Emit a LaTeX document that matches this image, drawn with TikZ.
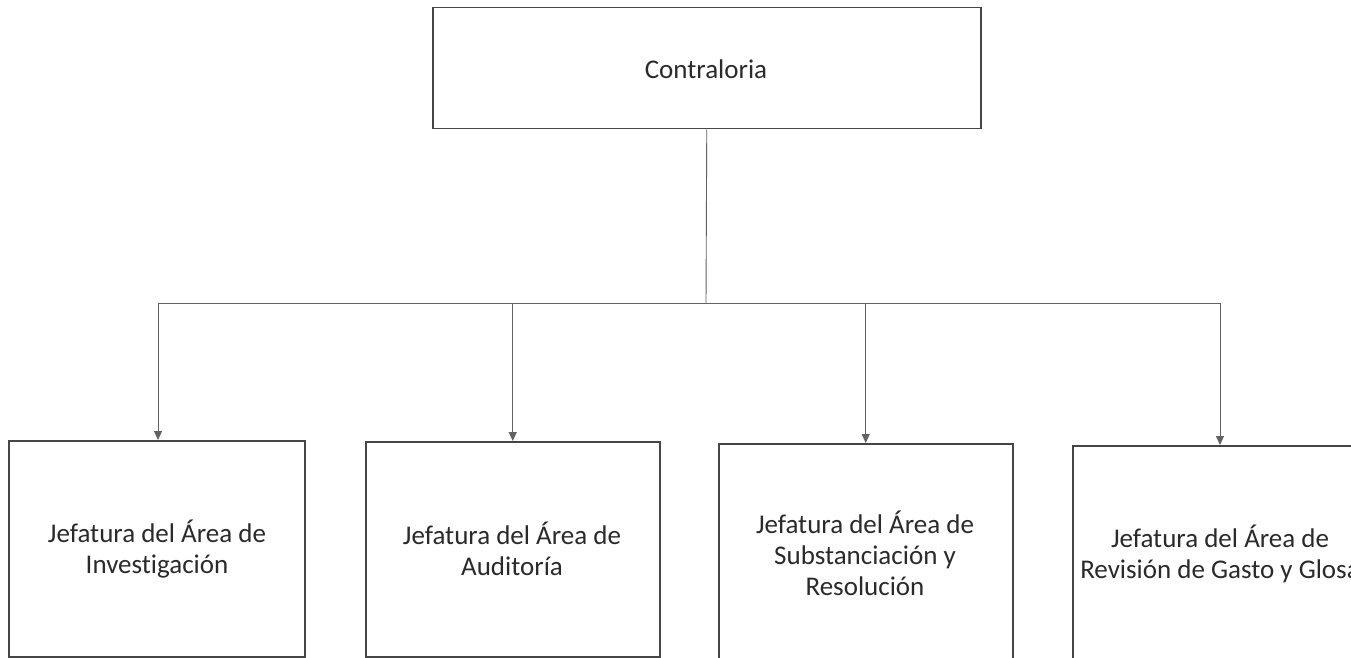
\documentclass[tikz,border=0pt]{standalone}
\usepackage{fontspec}
\setmainfont[Ligatures=NoCommon,RawFeature={-liga}]{Carlito}
\usetikzlibrary{arrows.meta}
\definecolor{ink}{HTML}{464646}
\definecolor{txt}{HTML}{2A2A2A}
\tikzset{
  box/.style={draw=ink, line width=1.5pt, rectangle, inner sep=0pt, anchor=north west},
  lbl/.style={text=txt, align=center, font=\fontsize{27}{31}\selectfont, inner sep=0pt},
  conn/.style={draw=ink!85, line width=0.9pt},
  arr/.style={conn, -{Triangle[width=8pt,length=9pt]}}
}
\begin{document}
\begin{tikzpicture}[x=1pt,y=-1pt]
\useasboundingbox[fill=white] (0,0) rectangle (1351,658);
% top box
\node[box, minimum width=548pt, minimum height=121pt] (top) at (432,7) {};
\node[lbl] (ttop) at (706,69) {Contraloria};
% bottom boxes
\node[box, minimum width=296pt, minimum height=216pt] (b1) at (8,440) {};
\node[box, minimum width=294pt, minimum height=215pt] (b2) at (365,441) {};
\node[box, minimum width=294pt, minimum height=215pt] (b3) at (718,443) {};
\node[box, minimum width=296pt, minimum height=216pt] (b4) at (1072,445) {};
\node[lbl] (t1) at (157,549) {Jefatura del Área de\\Investigación};
\node[lbl] (t2) at (512,549) {Jefatura del Área de\\Auditoría};
\node[lbl] (t3) at (865,553) {Jefatura del Área de\\Substanciación y\\Resolución};
\node[lbl] (t4) at (1220,554) {Jefatura del Área de\\Revisión de Gasto y Glosa};
% connectors
\coordinate (j) at (706,303);
\coordinate (jl) at (158,303);
\coordinate (jr) at (1220,303);
\draw[conn] (top.south) -- (j);
\draw[conn] (jl) -- (jr);
\draw[arr] (jl) -- (jl |- b1.north);
\draw[arr] (b2.north |- j) -- (b2.north);
\draw[arr] (b3.north |- j) -- (b3.north);
\draw[arr] (jr) -- (jr |- b4.north);
\end{tikzpicture}
\end{document}
